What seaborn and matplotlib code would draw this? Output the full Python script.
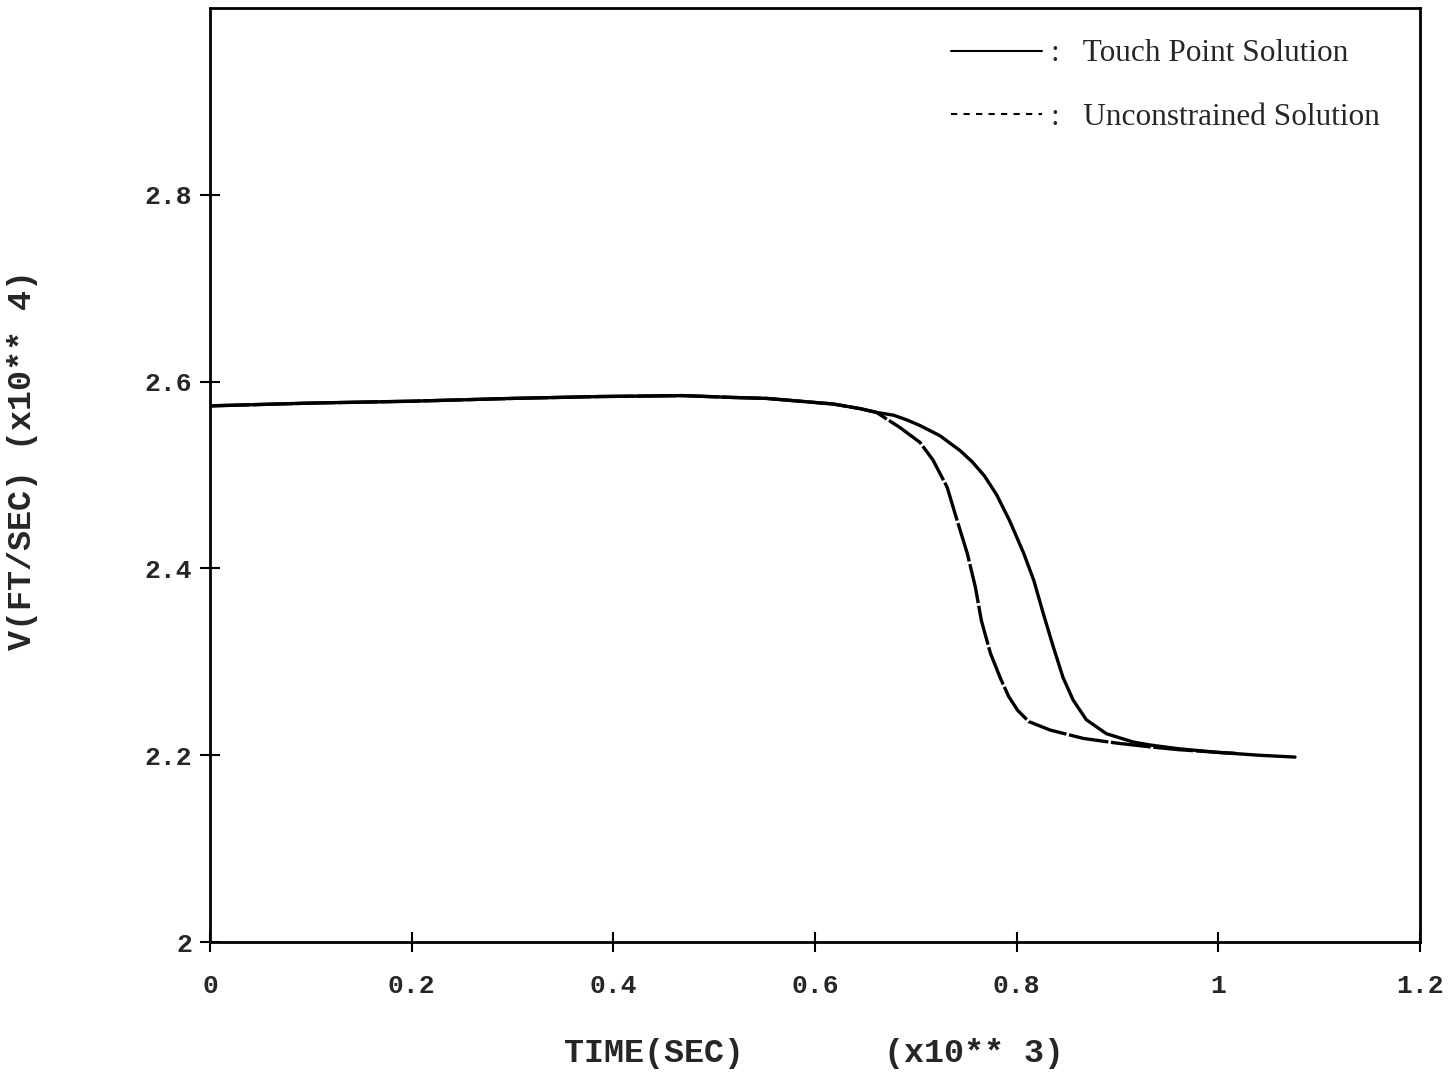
import matplotlib
matplotlib.use("Agg")
import matplotlib.pyplot as plt
import seaborn as sns
import pandas as pd
from matplotlib.lines import Line2D

# data (time in x10^3 s, velocity in x10^4 ft/s)
t_touch = [0, 0.1, 0.2, 0.3, 0.387, 0.469, 0.519, 0.552, 0.585, 0.618, 0.645,
           0.661, 0.678, 0.691, 0.704, 0.724, 0.744, 0.756, 0.768, 0.780, 0.793,
           0.807, 0.817, 0.826, 0.836, 0.846, 0.856, 0.869, 0.889, 0.916, 0.932,
           0.96, 1.0, 1.04, 1.076]
v_touch = [2.574, 2.577, 2.579, 2.582, 2.584, 2.585, 2.583, 2.582, 2.579, 2.576,
           2.571, 2.567, 2.564, 2.559, 2.553, 2.542, 2.526, 2.514, 2.499, 2.479,
           2.451, 2.416, 2.387, 2.353, 2.317, 2.283, 2.259, 2.238, 2.223, 2.214,
           2.211, 2.207, 2.203, 2.200, 2.198]

t_unc = [0, 0.1, 0.2, 0.3, 0.387, 0.469, 0.519, 0.552, 0.585, 0.618, 0.645,
         0.661, 0.671, 0.684, 0.704, 0.717, 0.731, 0.741, 0.751, 0.759, 0.765,
         0.774, 0.784, 0.792, 0.801, 0.812, 0.833, 0.866, 0.899, 0.932, 0.96,
         1.0, 1.017]
v_unc = [2.574, 2.577, 2.579, 2.582, 2.584, 2.585, 2.583, 2.582, 2.579, 2.576,
         2.571, 2.567, 2.560, 2.551, 2.535, 2.516, 2.487, 2.451, 2.416, 2.380,
         2.344, 2.309, 2.282, 2.263, 2.248, 2.236, 2.227, 2.218, 2.213, 2.209,
         2.206, 2.203, 2.202]

x_ticks = [0, 0.2, 0.4, 0.6, 0.8, 1.0, 1.2]
x_labels = ["0", "0.2", "0.4", "0.6", "0.8", "1", "1.2"]
y_ticks = [2.0, 2.2, 2.4, 2.6, 2.8]
y_labels = ["2", "2.2", "2.4", "2.6", "2.8"]

sns.set_style("white")
plt.rcParams["font.family"] = ["Liberation Mono", "DejaVu Sans Mono"]

df_touch = pd.DataFrame({"t": t_touch, "v": v_touch})
df_unc = pd.DataFrame({"t": t_unc, "v": v_unc})

fig = plt.figure(figsize=(14.55, 10.76), dpi=100)
ax = fig.add_axes([0.1443, 0.1245, 0.976 - 0.1443, 0.9926 - 0.1245])

sns.lineplot(data=df_touch, x="t", y="v", ax=ax, color="black", lw=2.4,
             sort=False, estimator=None)
sns.lineplot(data=df_unc, x="t", y="v", ax=ax, color="black", lw=2.4,
             sort=False, estimator=None, linestyle=(0, (12, 0.8)))

ax.set_xlim(0, 1.2)
ax.set_ylim(2.0, 3.0)
ax.set_xticks(x_ticks)
ax.set_xticklabels(x_labels)
ax.set_yticks(y_ticks)
ax.set_yticklabels(y_labels)

for s in ax.spines.values():
    s.set_linewidth(2)
    s.set_color("black")

ax.tick_params(direction="inout", length=14, width=1.5, color="black",
               labelsize=19, bottom=True, left=True, top=False, right=False)
ax.tick_params(axis="x", pad=16)
ax.tick_params(axis="y", pad=6)
for lab in ax.get_xticklabels() + ax.get_yticklabels():
    lab.set_fontweight("bold")

ax.set_xlabel("TIME(SEC)       (x10** 3)", fontsize=24, fontweight="bold")
ax.xaxis.set_label_coords(0.499, -0.103)
ax.set_ylabel("V(FT/SEC) (x10** 4)", fontsize=24, fontweight="bold")
ax.yaxis.set_label_coords(-0.142, 0.516)

handles = [Line2D([], [], color="black", lw=1.5),
           Line2D([], [], color="black", lw=1.5, linestyle=(0, (3, 3)))]
leg = ax.legend(handles, [":   Touch Point Solution", ":   Unconstrained Solution"],
                loc="upper right", bbox_to_anchor=(0.980, 0.983), frameon=False,
                handlelength=2.9, handletextpad=0.3, labelspacing=1.1,
                borderpad=0, prop={"family": "Liberation Serif", "size": 22.5})

fig.savefig("out.png", dpi=100, facecolor="white")
